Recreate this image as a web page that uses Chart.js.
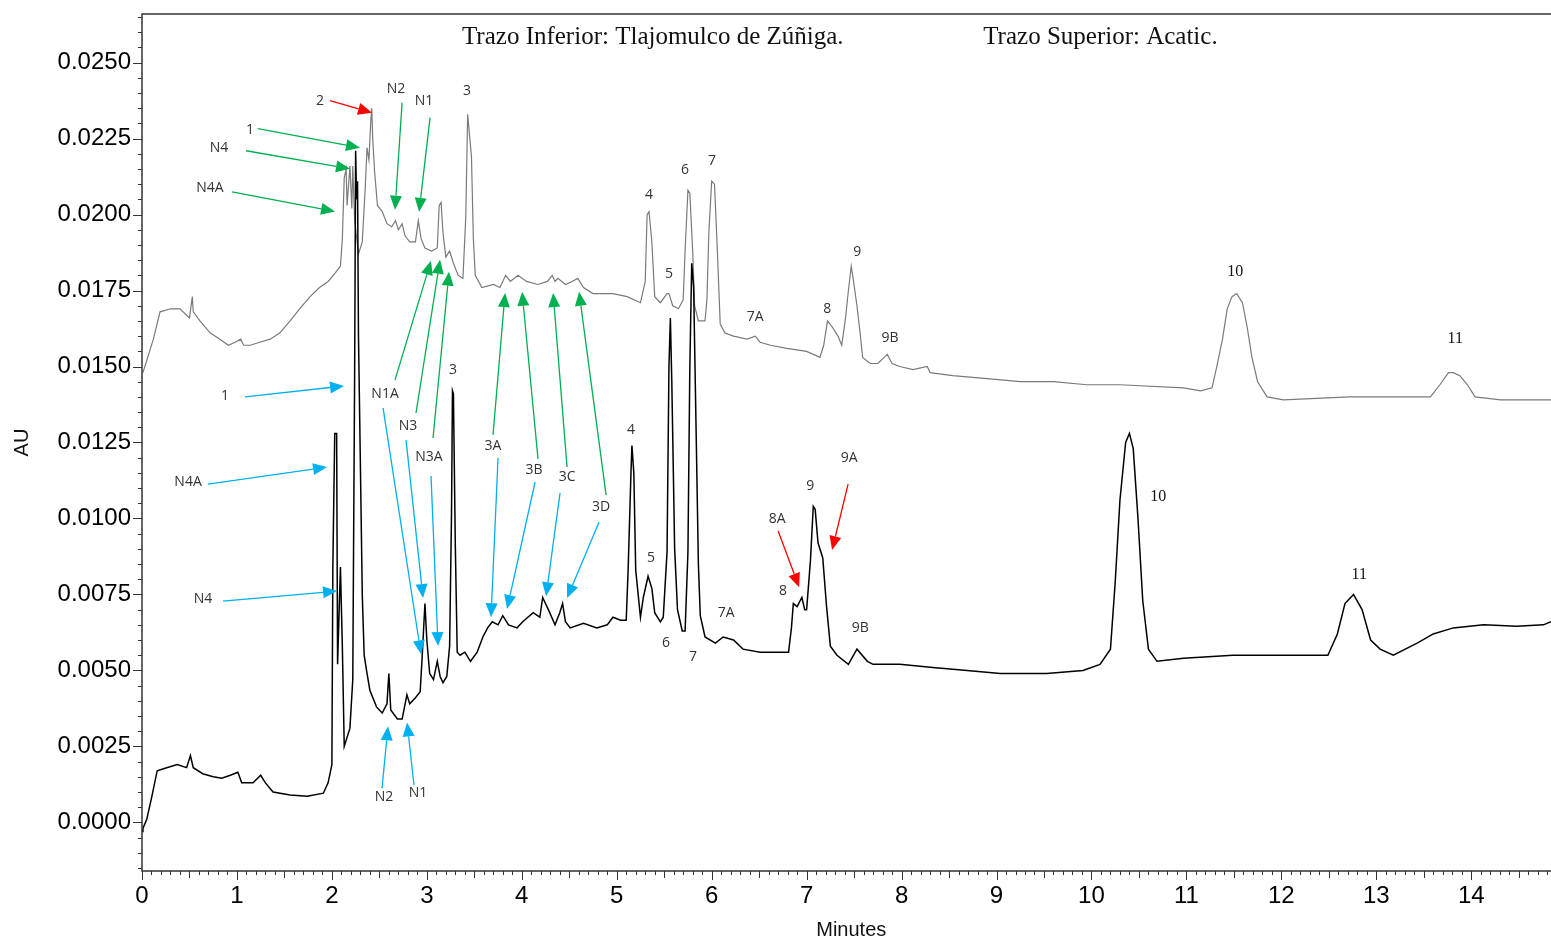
<!DOCTYPE html>
<html>
<head>
<meta charset="utf-8">
<script src="https://cdn.jsdelivr.net/npm/chart.js@4.4.1/dist/chart.umd.min.js"></script>
<style>
  html, body { margin: 0; padding: 0; background: #fff; }
  #wrap { width: 1551px; height: 941px; }
</style>
</head>
<body>
<div id="wrap"><canvas id="chart" width="1551" height="941"></canvas></div>
<script>
// Cromatogramas: trazo superior (Acatic) y trazo inferior (Tlajomulco de Zúñiga)

const xTickValues = [0, 1, 2, 3, 4, 5, 6, 7, 8, 9, 10, 11, 12, 13, 14];
const yTickValues = [0, 0.0025, 0.005, 0.0075, 0.01, 0.0125, 0.015, 0.0175, 0.02, 0.0225, 0.025];

// Trazo superior (Acatic)
const upperTime = [0.01, 0.06, 0.12, 0.19, 0.30, 0.40, 0.50, 0.53, 0.54, 0.61, 0.72, 0.82, 0.91, 0.98, 1.04, 1.07, 1.14, 1.24, 1.35, 1.45,
  1.56, 1.66, 1.77, 1.87, 1.96, 2.04, 2.09, 2.11, 2.13, 2.15, 2.16, 2.19, 2.21, 2.22, 2.24, 2.28, 2.32, 2.35, 2.37, 2.39,
  2.41, 2.42, 2.43, 2.45, 2.48, 2.53, 2.58, 2.63, 2.67, 2.70, 2.74, 2.77, 2.82, 2.88, 2.91, 2.94, 2.98, 3.05, 3.11, 3.13,
  3.15, 3.17, 3.20, 3.24, 3.28, 3.33, 3.38, 3.41, 3.43, 3.47, 3.49, 3.51, 3.58, 3.70, 3.77, 3.83, 3.88, 3.96, 4.05, 4.17,
  4.27, 4.32, 4.35, 4.38, 4.46, 4.53, 4.59, 4.65, 4.75, 4.96, 5.11, 5.25, 5.30, 5.32, 5.34, 5.37, 5.40, 5.46, 5.53, 5.55,
  5.59, 5.65, 5.70, 5.72, 5.75, 5.77, 5.80, 5.82, 5.86, 5.93, 5.95, 5.97, 6.00, 6.03, 6.06, 6.09, 6.14, 6.23, 6.37, 6.46,
  6.51, 6.62, 6.79, 7.00, 7.14, 7.18, 7.22, 7.27, 7.33, 7.37, 7.41, 7.44, 7.47, 7.49, 7.53, 7.56, 7.59, 7.67, 7.75, 7.85,
  7.90, 7.98, 8.12, 8.27, 8.30, 8.54, 8.90, 9.25, 9.60, 9.95, 10.30, 10.97, 11.15, 11.27, 11.32, 11.38, 11.43, 11.48, 11.53, 11.59,
  11.64, 11.69, 11.75, 11.85, 12.02, 12.72, 13.43, 13.57, 13.67, 13.76, 13.81, 13.88, 13.96, 14.04, 14.31, 14.84];
const upperAU = [0.0148, 0.0153, 0.0159, 0.0168, 0.0169, 0.0169, 0.0166, 0.0173, 0.0168, 0.0165, 0.0161, 0.0159, 0.0157, 0.0158, 0.0159, 0.0157, 0.0157, 0.0158, 0.0159, 0.0161,
  0.0165, 0.0169, 0.0173, 0.0176, 0.0178, 0.0181, 0.0183, 0.0192, 0.0212, 0.0215, 0.0203, 0.0216, 0.0202, 0.0216, 0.0198, 0.0187, 0.0191, 0.0208, 0.0222, 0.0218,
  0.0231, 0.0235, 0.0225, 0.0214, 0.0203, 0.0201, 0.0197, 0.0196, 0.0198, 0.0195, 0.0197, 0.0193, 0.0191, 0.0191, 0.0198, 0.0192, 0.0189, 0.0188, 0.0189, 0.0203,
  0.0204, 0.0194, 0.0186, 0.0188, 0.0184, 0.0180, 0.0179, 0.0199, 0.0233, 0.0219, 0.0192, 0.0180, 0.0176, 0.0177, 0.0176, 0.0180, 0.0178, 0.0180, 0.0178, 0.0177,
  0.0178, 0.0180, 0.0178, 0.0179, 0.0177, 0.0178, 0.0179, 0.0176, 0.0174, 0.0174, 0.0173, 0.0171, 0.0178, 0.0200, 0.0201, 0.0191, 0.0173, 0.0171, 0.0174, 0.0174,
  0.0170, 0.0169, 0.0172, 0.0188, 0.0208, 0.0207, 0.0188, 0.0170, 0.0165, 0.0165, 0.0172, 0.0194, 0.0211, 0.0210, 0.0188, 0.0164, 0.0161, 0.0160, 0.0159, 0.0160,
  0.0158, 0.0157, 0.0156, 0.0155, 0.0153, 0.0157, 0.0165, 0.0163, 0.0160, 0.0157, 0.0166, 0.0175, 0.0183, 0.0179, 0.0170, 0.0162, 0.0153, 0.0151, 0.0151, 0.0154,
  0.0151, 0.0150, 0.0149, 0.0150, 0.0148, 0.0147, 0.0146, 0.0145, 0.0145, 0.0144, 0.0144, 0.0143, 0.0142, 0.0143, 0.0150, 0.0159, 0.0169, 0.0173, 0.0174, 0.0171,
  0.0163, 0.0153, 0.0145, 0.0140, 0.0139, 0.0140, 0.0140, 0.0140, 0.0144, 0.0148, 0.0148, 0.0147, 0.0144, 0.0140, 0.0139, 0.0139];

// Trazo inferior (Tlajomulco de Zúñiga)
const lowerTime = [0.00, 0.01, 0.05, 0.10, 0.16, 0.26, 0.37, 0.47, 0.51, 0.54, 0.64, 0.75, 0.84, 0.93, 1.01, 1.05, 1.17, 1.25, 1.30, 1.38,
  1.56, 1.74, 1.91, 1.96, 2.00, 2.01, 2.03, 2.05, 2.06, 2.09, 2.11, 2.13, 2.19, 2.22, 2.24, 2.25, 2.26, 2.27, 2.28, 2.30,
  2.32, 2.34, 2.37, 2.40, 2.47, 2.53, 2.58, 2.60, 2.62, 2.69, 2.74, 2.79, 2.82, 2.88, 2.93, 2.95, 2.98, 3.00, 3.03, 3.07,
  3.11, 3.14, 3.17, 3.21, 3.24, 3.26, 3.27, 3.28, 3.30, 3.32, 3.35, 3.40, 3.46, 3.53, 3.59, 3.64, 3.69, 3.75, 3.80, 3.86,
  3.95, 4.01, 4.12, 4.19, 4.22, 4.28, 4.35, 4.40, 4.43, 4.46, 4.51, 4.65, 4.79, 4.90, 4.96, 5.04, 5.10, 5.12, 5.15, 5.16,
  5.18, 5.20, 5.25, 5.28, 5.33, 5.37, 5.40, 5.46, 5.49, 5.53, 5.55, 5.565, 5.58, 5.61, 5.64, 5.69, 5.72, 5.75, 5.77, 5.79,
  5.81, 5.83, 5.86, 5.88, 5.93, 6.04, 6.12, 6.23, 6.33, 6.51, 6.69, 6.81, 6.84, 6.86, 6.90, 6.95, 6.98, 7.00, 7.04, 7.07,
  7.09, 7.12, 7.17, 7.21, 7.25, 7.32, 7.44, 7.53, 7.64, 7.70, 7.98, 8.33, 8.69, 9.04, 9.53, 9.91, 10.09, 10.20, 10.25, 10.30,
  10.36, 10.40, 10.44, 10.49, 10.54, 10.60, 10.69, 10.97, 11.49, 12.02, 12.49, 12.59, 12.67, 12.76, 12.85, 12.94, 13.04, 13.18, 13.43, 13.60,
  13.81, 14.13, 14.48, 14.76, 14.84];
const lowerAU = [-0.0003, -0.0002, 0.0001, 0.0008, 0.0017, 0.0018, 0.0019, 0.0018, 0.0022, 0.0018, 0.0016, 0.0015, 0.00145, 0.00155, 0.00165, 0.0013, 0.0013, 0.00155, 0.0013, 0.0010,
  0.0009, 0.00086, 0.00096, 0.0013, 0.0019, 0.0084, 0.0128, 0.0128, 0.0052, 0.0084, 0.0058, 0.0025, 0.0031, 0.0047, 0.0150, 0.0221, 0.0205, 0.0211, 0.0160, 0.0118,
  0.0075, 0.0055, 0.0049, 0.00435, 0.0038, 0.0036, 0.0039, 0.0049, 0.0037, 0.0034, 0.0034, 0.0042, 0.0039, 0.0041, 0.0043, 0.0054, 0.0072, 0.0060, 0.0049, 0.0047,
  0.0053, 0.0048, 0.0046, 0.0048, 0.0058, 0.0102, 0.0142, 0.0141, 0.0091, 0.0056, 0.0055, 0.0056, 0.0053, 0.0056, 0.0061, 0.0064, 0.0066, 0.0065, 0.0068, 0.0065,
  0.0064, 0.0066, 0.0069, 0.00675, 0.0074, 0.0070, 0.0065, 0.0069, 0.0072, 0.0066, 0.0064, 0.00655, 0.0064, 0.0065, 0.00675, 0.00665, 0.00665, 0.0083, 0.0115, 0.0124,
  0.0115, 0.0083, 0.00675, 0.0074, 0.0081, 0.0077, 0.0069, 0.0066, 0.00675, 0.0089, 0.0150, 0.0166, 0.0145, 0.0090, 0.0070, 0.0063, 0.0063, 0.0089, 0.0150, 0.0184,
  0.0176, 0.0140, 0.0085, 0.0068, 0.0061, 0.0059, 0.0061, 0.0060, 0.0057, 0.0056, 0.0056, 0.0056, 0.0064, 0.0072, 0.0071, 0.0074, 0.0070, 0.0070, 0.0086, 0.0104,
  0.0103, 0.0092, 0.0087, 0.0071, 0.0058, 0.0055, 0.0052, 0.0057, 0.0053, 0.0052, 0.0052, 0.0051, 0.0050, 0.0049, 0.0049, 0.0050, 0.0052, 0.0057, 0.0079, 0.0106,
  0.0125, 0.0128, 0.0123, 0.0100, 0.0073, 0.0057, 0.0053, 0.0054, 0.0055, 0.0055, 0.0055, 0.0062, 0.0072, 0.0075, 0.0070, 0.0060, 0.0057, 0.0055, 0.0059, 0.0062,
  0.0064, 0.0065, 0.00645, 0.0065, 0.0066];

// Etiquetas de picos: [texto, minutos, AU]
const upperLabels = [['2', 1.875, 0.02375], ['N2', 2.676, 0.02414], ['N1', 2.971, 0.02375], ['3', 3.424, 0.02408],
  ['1', 1.138, 0.02279], ['N4', 0.811, 0.0222], ['N4A', 0.716, 0.02088], ['4', 5.341, 0.02065], ['6', 5.72, 0.02148],
  ['7', 6.004, 0.02177], ['5', 5.551, 0.01805], ['7A', 6.458, 0.01663], ['8', 7.216, 0.0169], ['9', 7.532, 0.01877],
  ['9B', 7.879, 0.01594]];
const lowerLabels = [['1', 0.874, 0.01403], ['N1A', 2.56, 0.0141], ['N3', 2.802, 0.01304], ['N3A', 3.023, 0.01202],
  ['3', 3.276, 0.01489], ['3A', 3.697, 0.01238], ['3B', 4.129, 0.01159], ['3C', 4.477, 0.01136], ['3D', 4.835, 0.01038],
  ['N4A', 0.485, 0.0112], ['N4', 0.643, 0.00735], ['4', 5.151, 0.01291], ['5', 5.362, 0.0087], ['6', 5.52, 0.0059],
  ['7', 5.804, 0.00543], ['7A', 6.152, 0.00688], ['8A', 6.689, 0.00998], ['8', 6.752, 0.00761], ['9', 7.037, 0.01107],
  ['9A', 7.448, 0.01199], ['9B', 7.564, 0.00639], ['N2', 2.549, 0.00082], ['N1', 2.907, 0.00096]];
const serifLabels = [['10', 11.514, 0.01812], ['11', 13.831, 0.01591], ['10', 10.703, 0.01071], ['11', 12.82, 0.00814]];

// Flechas: [min inicio, AU inicio, min punta, AU punta]
const greenArrows = [[1.22, 0.02283, 2.296, 0.0222], [1.096, 0.0221, 2.191, 0.02151], [0.948, 0.02075, 2.033, 0.0201],
  [2.739, 0.02368, 2.665, 0.02016], [3.034, 0.02319, 2.918, 0.02009], [2.665, 0.01456, 3.044, 0.01848],
  [2.886, 0.01347, 3.139, 0.01851], [3.065, 0.01265, 3.234, 0.01812], [3.697, 0.01275, 3.824, 0.01742],
  [4.171, 0.01196, 4.003, 0.01746], [4.477, 0.01169, 4.33, 0.01742], [4.888, 0.01077, 4.603, 0.01746]];
const redArrows = [[1.98, 0.02375, 2.423, 0.02335], [6.7, 0.00959, 6.921, 0.00774], [7.437, 0.01113, 7.268, 0.00896]];
const blueArrows = [[1.085, 0.014, 2.128, 0.01436], [0.695, 0.01113, 1.949, 0.01169], [0.853, 0.00728, 2.054, 0.00761],
  [2.539, 0.01364, 2.939, 0.00553], [2.781, 0.01258, 2.96, 0.00738], [3.044, 0.0114, 3.118, 0.0058],
  [3.75, 0.01199, 3.676, 0.00675], [4.14, 0.0112, 3.845, 0.00702], [4.403, 0.01084, 4.256, 0.00744],
  [4.814, 0.00988, 4.477, 0.00738], [2.528, 0.00112, 2.591, 0.00316], [2.865, 0.00122, 2.792, 0.00329]];

function toPoints(times, values) {
  return times.map((t, i) => ({ x: t, y: values[i] }));
}

function drawArrow(ctx, x1, y1, x2, y2, color) {
  const ang = Math.atan2(y2 - y1, x2 - x1);
  const head = 14, half = 6;
  const bx = x2 - head * Math.cos(ang), by = y2 - head * Math.sin(ang);
  ctx.strokeStyle = color;
  ctx.fillStyle = color;
  ctx.lineWidth = 1.3;
  ctx.beginPath();
  ctx.moveTo(x1, y1);
  ctx.lineTo(bx, by);
  ctx.stroke();
  ctx.beginPath();
  ctx.moveTo(x2, y2);
  ctx.lineTo(bx + half * Math.sin(ang), by - half * Math.cos(ang));
  ctx.lineTo(bx - half * Math.sin(ang), by + half * Math.cos(ang));
  ctx.closePath();
  ctx.fill();
}

// Marco, marcas de ejes, títulos y anotaciones
const decoraciones = {
  id: 'decoraciones',
  afterDraw(chart) {
    const { ctx, chartArea: a, scales: { x, y } } = chart;
    ctx.save();

    // marco
    ctx.strokeStyle = '#333';
    ctx.lineWidth = 1.5;
    ctx.beginPath();
    ctx.moveTo(a.right, a.top); ctx.lineTo(a.left, a.top);
    ctx.lineTo(a.left, a.bottom); ctx.lineTo(a.right, a.bottom);
    ctx.stroke();

    // marcas del eje Y (cada 0.0005)
    ctx.lineWidth = 1;
    ctx.beginPath();
    for (let k = Math.ceil(y.min / 0.0005); k * 0.0005 <= y.max; k++) {
      const py = Math.round(y.getPixelForValue(k * 0.0005)) + 0.5;
      const len = (k % 5 === 0) ? 9 : 4;
      ctx.moveTo(a.left - len, py); ctx.lineTo(a.left, py);
    }
    // marcas del eje X (cada 0.1 min)
    for (let k = 0; k * 0.1 <= x.max; k++) {
      const px = Math.round(x.getPixelForValue(k * 0.1)) + 0.5;
      const len = (k % 10 === 0) ? 9 : (k % 5 === 0 ? 7 : 4);
      ctx.moveTo(px, a.bottom); ctx.lineTo(px, a.bottom + len);
    }
    ctx.stroke();

    // títulos de ejes
    ctx.fillStyle = '#111';
    ctx.font = '20px "Liberation Sans", Arial, sans-serif';
    ctx.textAlign = 'center';
    ctx.textBaseline = 'middle';
    ctx.fillText('Minutes', x.getPixelForValue(7.47), 930);
    ctx.save();
    ctx.translate(22, (a.top + a.bottom) / 2);
    ctx.rotate(-Math.PI / 2);
    ctx.fillText('AU', 0, 0);
    ctx.restore();

    // leyendas de trazos
    ctx.font = '25px "Liberation Serif", "Times New Roman", serif';
    ctx.textAlign = 'left';
    ctx.textBaseline = 'alphabetic';
    ctx.fillText('Trazo Inferior: Tlajomulco de Zúñiga.', x.getPixelForValue(3.37), a.top + 30);
    ctx.fillText('Trazo Superior: Acatic.', x.getPixelForValue(8.86), a.top + 30);

    // flechas
    greenArrows.forEach(r => drawArrow(ctx, x.getPixelForValue(r[0]), y.getPixelForValue(r[1]),
      x.getPixelForValue(r[2]), y.getPixelForValue(r[3]), '#00B050'));
    redArrows.forEach(r => drawArrow(ctx, x.getPixelForValue(r[0]), y.getPixelForValue(r[1]),
      x.getPixelForValue(r[2]), y.getPixelForValue(r[3]), '#FF0000'));
    blueArrows.forEach(r => drawArrow(ctx, x.getPixelForValue(r[0]), y.getPixelForValue(r[1]),
      x.getPixelForValue(r[2]), y.getPixelForValue(r[3]), '#00B0F0'));

    // etiquetas de picos
    ctx.textAlign = 'center';
    ctx.textBaseline = 'middle';
    ctx.fillStyle = '#333';
    ctx.font = '14px "Open Sans", "Noto Sans", sans-serif';
    upperLabels.concat(lowerLabels).forEach(l => {
      ctx.fillText(l[0], x.getPixelForValue(l[1]), y.getPixelForValue(l[2]));
    });
    ctx.fillStyle = '#111';
    ctx.font = '16px "Liberation Serif", "Times New Roman", serif';
    serifLabels.forEach(l => {
      ctx.fillText(l[0], x.getPixelForValue(l[1]), y.getPixelForValue(l[2]));
    });

    ctx.restore();
  }
};

new Chart(document.getElementById('chart').getContext('2d'), {
  type: 'line',
  data: {
    datasets: [{
      label: 'Tlajomulco de Zúñiga',
      data: toPoints(lowerTime, lowerAU),
      borderColor: '#000000',
      borderWidth: 1.5,
      pointRadius: 0,
      tension: 0,
      fill: false
    }, {
      label: 'Acatic',
      data: toPoints(upperTime, upperAU),
      borderColor: '#7a7a7a',
      borderWidth: 1.2,
      pointRadius: 0,
      tension: 0,
      fill: false
    }]
  },
  options: {
    responsive: false,
    animation: false,
    events: [],
    layout: { padding: { top: 14, right: 0, left: 0, bottom: 0 } },
    plugins: {
      legend: { display: false },
      tooltip: { enabled: false }
    },
    scales: {
      x: {
        type: 'linear',
        min: 0,
        max: 14.84,
        afterFit: (s) => { s.height = 70; s.paddingLeft = 0; s.paddingRight = 0; },
        afterBuildTicks: (s) => { s.ticks = xTickValues.map(v => ({ value: v })); },
        grid: { display: false, drawTicks: false },
        border: { display: false },
        ticks: {
          padding: 11,
          color: '#000',
          font: { family: '"Liberation Sans", Arial, sans-serif', size: 24 },
          callback: (v) => String(v)
        }
      },
      y: {
        type: 'linear',
        min: -0.0016,
        max: 0.0266,
        afterFit: (s) => { s.width = 142; s.paddingTop = 0; s.paddingBottom = 0; },
        afterBuildTicks: (s) => { s.ticks = yTickValues.map(v => ({ value: v })); },
        grid: { display: false, drawTicks: false },
        border: { display: false },
        ticks: {
          padding: 11,
          color: '#000',
          font: { family: '"Liberation Sans", Arial, sans-serif', size: 24 },
          callback: (v) => v.toFixed(4)
        }
      }
    }
  },
  plugins: [decoraciones]
});
</script>
</body>
</html>
